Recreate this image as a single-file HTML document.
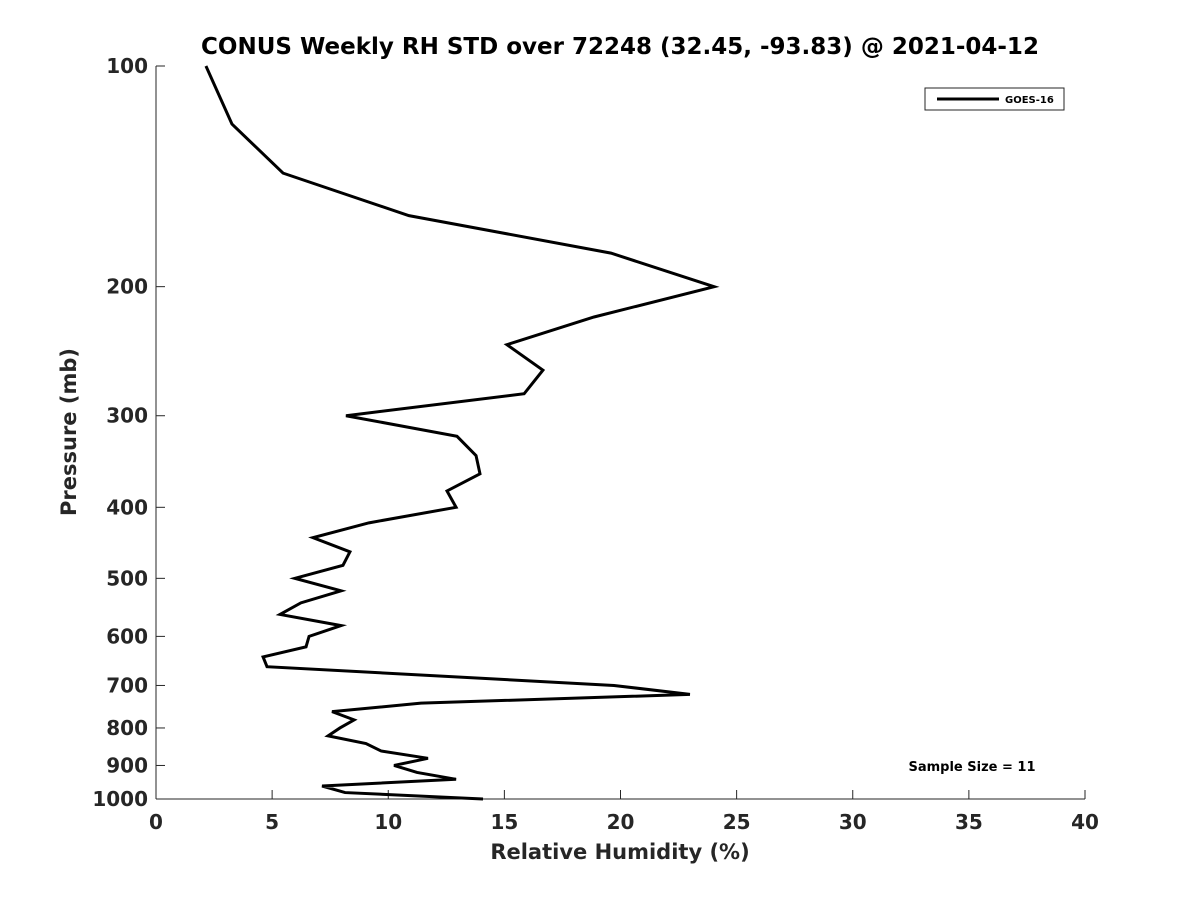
<!DOCTYPE html>
<html><head><meta charset="utf-8"><style>body{margin:0;background:#fff}svg{display:block}text{font-family:"DejaVu Sans","Liberation Sans",sans-serif;font-weight:bold}</style></head>
<body>
<svg id="c" width="1200" height="900"></svg>
<script>
const rhValues=[2.15,3.27,5.47,10.89,19.59,24.03,18.86,15.11,16.66,15.85,8.18,12.96,13.78,13.95,12.53,12.92,9.17,6.76,8.35,8.05,5.98,7.97,6.24,5.34,7.97,6.59,6.46,4.61,4.78,19.72,22.99,11.41,7.58,8.53,7.92,7.41,9.04,9.69,11.71,10.25,11.24,12.92,7.15,8.14,14.08];
const pressures=[100,120,140,160,180,200,220,240,260,280,300,320,340,360,380,400,420,440,460,480,500,520,540,560,580,600,620,640,660,700,720,740,760,780,800,820,840,860,880,900,920,940,960,980,1000];
const xTicks=[0,5,10,15,20,25,30,35,40];
const yTicks=[100,200,300,400,500,600,700,800,900,1000];
const svg=document.getElementById('c');const NS='http://www.w3.org/2000/svg';
const L=156,R=1085,T=66,B=799;
const xs=v=>L+(v-0)/40*(R-L);
const ys=p=>T+Math.log10(p/100)*(B-T);
function mk(tag,attrs,parent,name){const e=document.createElementNS(NS,tag);for(const k in attrs)e.setAttribute(k,attrs[k]);(parent||svg).appendChild(e);


return e;}
mk('line',{x1:L,y1:B,x2:R,y2:B,stroke:'#262626','stroke-width':1},svg,'x-axis');
mk('line',{x1:L,y1:T,x2:L,y2:B,stroke:'#262626','stroke-width':1},svg,'y-axis');
xTicks.forEach(v=>{const x=xs(v);mk('line',{x1:x,y1:B,x2:x,y2:B-9,stroke:'#262626'},svg,'x-tick');
const t=mk('text',{x:x,y:B+30,'text-anchor':'middle','font-size':20,fill:'#262626'},svg,'x-tick-label');t.textContent=v;});
yTicks.forEach(p=>{const y=ys(p);mk('line',{x1:L,y1:y,x2:L+9,y2:y,stroke:'#262626'},svg,'y-tick');
const t=mk('text',{x:L-8,y:y+7,'text-anchor':'end','font-size':20,fill:'#262626'},svg,'y-tick-label');t.textContent=p;});
const pts=rhValues.map((v,i)=>xs(v)+','+ys(pressures[i])).join(' ');
mk('polyline',{points:pts,fill:'none',stroke:'#000','stroke-width':3,'stroke-linejoin':'miter'},svg,'goes16-line');
let t=mk('text',{x:620,y:54,'text-anchor':'middle','font-size':23,fill:'#000'},svg,'chart-title');t.textContent='CONUS Weekly RH STD over 72248 (32.45, -93.83) @ 2021-04-12';
t=mk('text',{x:620,y:859,'text-anchor':'middle','font-size':21,fill:'#262626'},svg,'x-axis-title');t.textContent='Relative Humidity (%)';
t=mk('text',{x:0,y:0,'text-anchor':'middle','font-size':21,fill:'#262626',transform:'translate(76,432) rotate(-90)'},svg,'y-axis-title');t.textContent='Pressure (mb)';
const lg=mk('g',{},svg,'legend');
mk('rect',{x:925,y:88,width:139,height:22,fill:'#fff',stroke:'#262626','stroke-width':1},lg,'legend-box');
mk('line',{x1:937,y1:99,x2:999,y2:99,stroke:'#000','stroke-width':3},lg,'legend-line');
t=mk('text',{x:1005,y:103,'font-size':10,fill:'#000'},lg,'legend-label');t.textContent='GOES-16';
t=mk('text',{x:972,y:771,'text-anchor':'middle','font-size':13,fill:'#000'},svg,'sample-size');t.textContent='Sample Size = 11';
</script>
</body></html>
